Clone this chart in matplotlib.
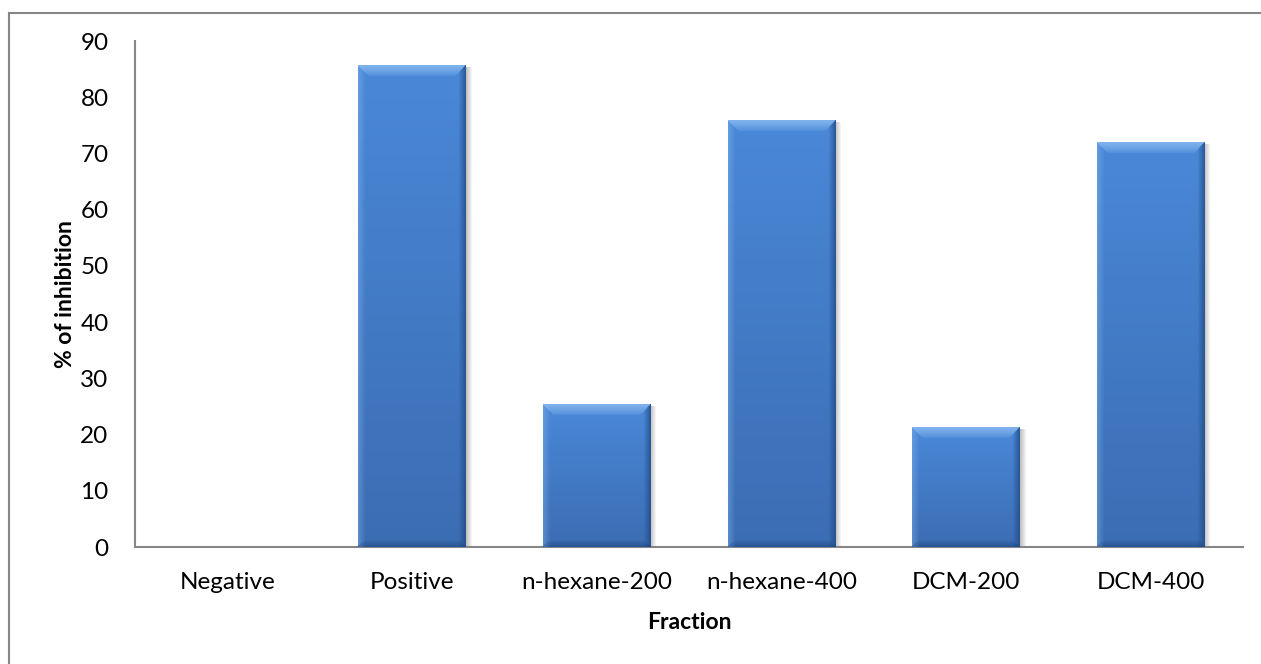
import numpy as np
import matplotlib.pyplot as plt
from matplotlib.patches import Rectangle
from matplotlib.colors import to_rgb

fractions = ['Negative', 'Positive', 'n-hexane-200', 'n-hexane-400', 'DCM-200', 'DCM-400']
inhibition = [0, 85.6, 25.3, 75.8, 21.3, 72.0]
y_ticks = [0, 10, 20, 30, 40, 50, 60, 70, 80, 90]

W, H, DPI = 1261, 664, 100
plt.rcParams['font.family'] = ['Lato', 'DejaVu Sans']

fig = plt.figure(figsize=(W / DPI, H / DPI), dpi=DPI)
ax = fig.add_axes([135 / W, 1 - 547 / H, (1243 - 135) / W, (547 - 41) / H])

x = np.arange(len(fractions))
bars = ax.bar(x, inhibition, width=0.58, color='#4683d2', zorder=2)
ax.set_xlim(-0.5, len(fractions) - 0.5)
ax.set_ylim(0, 90)
ax.set_yticks(y_ticks)
ax.set_xticks(x)
ax.set_xticklabels(fractions, fontsize=17.5)
ax.tick_params(axis='y', labelsize=17.5, length=0, pad=19)
ax.tick_params(axis='x', length=0, pad=18)

for side in ['top', 'right']:
    ax.spines[side].set_visible(False)
for side in ['left', 'bottom']:
    ax.spines[side].set_color('#868686')
    ax.spines[side].set_linewidth(1.5)

ax.set_ylabel('% of inhibition', fontsize=16.5, fontweight='bold', labelpad=3)
ax.set_xlabel('Fraction', fontsize=16.5, fontweight='bold', labelpad=14)


def mix(c1, c2, t):
    return (1 - t) * np.array(c1) + t * np.array(c2)


# bevelled gradient fill painted over each bar
fig.canvas.draw()
top_c, bot_c = to_rgb('#4a88d8'), to_rgb('#3b6db3')
light, dark = to_rgb('#9ccaf7'), to_rgb('#1f4a84')
for b in bars:
    h = b.get_height()
    if h <= 0:
        b.set_visible(False)
        continue
    x0, y0 = b.get_x(), b.get_y()
    w = b.get_width()
    p0 = ax.transData.transform((x0, y0))
    p1 = ax.transData.transform((x0 + w, y0 + h))
    wp, hp = int(round(p1[0] - p0[0])), int(round(p1[1] - p0[1]))
    rows = np.linspace(0, 1, hp)[:, None]
    img = mix(top_c, bot_c, rows[..., None] * np.ones((1, wp, 1)))
    bev = 11
    for r in range(bev):
        t = 1 - r / bev
        lo, hi = r, wp - r
        img[r, lo:hi] = mix(img[r, lo:hi], light, 0.65 * t ** 0.7)
    for c in range(7):
        t = 1 - c / 7
        img[c:, c] = mix(img[c:, c], light, 0.3 * t)
        img[c:, wp - 1 - c] = mix(img[c:, wp - 1 - c], dark, 0.75 * t)
        img[hp - 1 - c, c:wp - c] = mix(img[hp - 1 - c, c:wp - c], dark, 0.65 * t)
    # soft shadow to the right and below
    for k in range(1, 7):
        ax.add_patch(Rectangle((x0 + w, y0), k * w / wp, h - 1.5 * 90 / 506,
                               color='#000000', alpha=0.045, lw=0, zorder=1))
    ax.imshow(img, extent=(x0, x0 + w, y0, y0 + h), aspect='auto',
              interpolation='bilinear', zorder=3)

ax.set_xlim(-0.5, len(fractions) - 0.5)
ax.set_ylim(0, 90)

# outer chart frame
fig.add_artist(Rectangle((8.5 / W, -0.05), 1.2, 1 - 12.5 / H + 0.05,
                         transform=fig.transFigure, fill=False,
                         edgecolor='#868686', lw=1.5))

fig.savefig('out.png', dpi=DPI)
